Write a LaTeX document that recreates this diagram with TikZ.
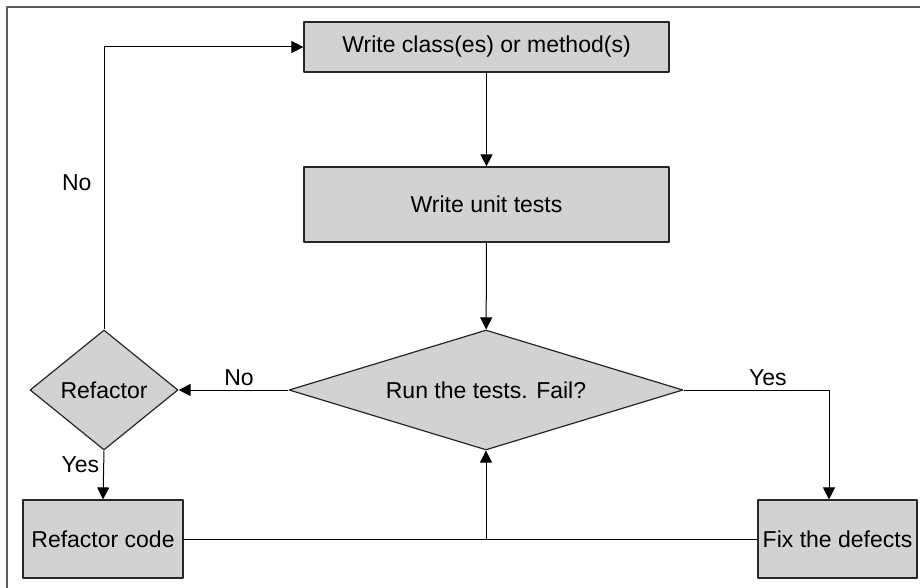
\documentclass[tikz,border=0pt]{standalone}
\usepackage{fontspec}
\setmainfont{Liberation Sans}
\usetikzlibrary{shapes.geometric, arrows.meta}
\definecolor{boxgray}{RGB}{209,210,212}
\definecolor{framegray}{RGB}{90,90,90}
\tikzset{>={Triangle[length=6pt,width=6pt]}}
\tikzset{procbox/.style={draw=black!85, fill=boxgray, line width=0.6pt, inner sep=0pt,
    font=\fontsize{11.5}{13}\selectfont}
}
\tikzset{decbox/.style={diamond, draw=black!85, fill=boxgray, line width=0.6pt, inner sep=0pt,
    font=\fontsize{11.5}{13}\selectfont}
}
\tikzset{flow/.style={line width=0.5pt, black}}
\tikzset{lbl/.style={font=\fontsize{11.5}{13}\selectfont, inner sep=2pt}}

\begin{document}
\begin{tikzpicture}[x=0.5pt, y=-0.5pt, line join = round]
\useasboundingbox (0,0) rectangle (920,588);

% frame
\draw[framegray, line width=0.8pt] (7,588) -- (7,7) -- (920,7);

\node[procbox, minimum width=182.5pt, minimum height=25pt] (write) at (486.5,47) {Write class(es) or method(s)};
\node[procbox, minimum width=182.5pt, minimum height=37.5pt] (tests) at (486.5,204.5) {Write unit tests};
\node[decbox, aspect=3.28, minimum width=197pt, minimum height=60pt] (run) at (486,390) {Run the tests. Fail?};
\node[decbox, aspect=1.23, minimum width=74pt, minimum height=60pt] (refactor) at (104,390) {Refactor};
\node[procbox, minimum width=80pt, minimum height=39pt] (rcode) at (103,539) {Refactor code};
\node[procbox, minimum width=79.5pt, minimum height=39pt] (fix) at (837.5,539) {Fix the defects};

\coordinate (yesturn) at (829,390);
\coordinate (merge) at (run.south |- rcode.east);

\draw[flow,->] (write) -- (tests);
\draw[flow,->] (tests) -- (run);
\draw[flow,->] (run.west) -- node[lbl, pos=0.45, above]{No} (refactor.east);
\draw[flow,->] (run.east) -- node[lbl, pos=0.58, above]{Yes} (yesturn) -- (yesturn |- fix.north);
\draw[flow,->] (refactor.south) -- node[lbl, pos=0.28, left]{Yes} (rcode.north);
\draw[flow,->] (refactor.north) |- node[lbl, pos=0.26, left, xshift=-4pt]{No} (write.west);
\draw[flow] (rcode.east) -- (fix.west);
\draw[flow,->] (merge) -- (run.south);

\end{tikzpicture}
\end{document}
